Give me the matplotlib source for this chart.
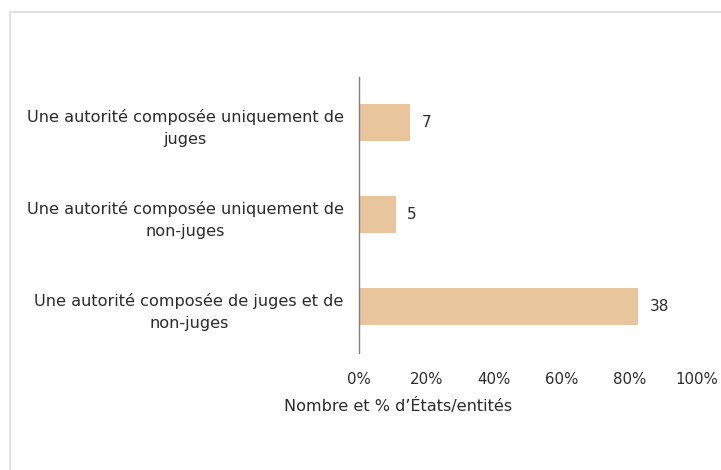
import numpy as np
import matplotlib.pyplot as plt
from matplotlib.patches import Rectangle

# Données
categories = [
    "Une autorité composée uniquement de\njuges",
    "Une autorité composée uniquement de\nnon-juges",
    "Une autorité composée de juges et de\nnon-juges",
]
valeurs = [7, 5, 38]
total = 46
pourcentages = [v / total * 100 for v in valeurs]
ticks = [0, 20, 40, 60, 80, 100]
tick_labels = ["0%", "20%", "40%", "60%", "80%", "100%"]

couleur_barre = "#E8C59C"
couleur_texte = "#2b2b2b"

fig = plt.figure(figsize=(7.21, 4.70), dpi=100)
fig.patch.set_facecolor("white")

# Cadre gris clair
fig.patches.append(Rectangle((10 / 721, -0.05), 1.2, 1 - 12 / 470 + 0.05,
                             transform=fig.transFigure, fill=False,
                             edgecolor="#dcdcdc", linewidth=1.2))

ax = fig.add_axes([359 / 721, 0.25, (697 - 359) / 721, 0.587])

y = np.arange(len(categories))
ax.barh(y, pourcentages, height=0.4, color=couleur_barre)

for yi, p, v in zip(y, pourcentages, valeurs):
    ax.annotate(str(v), xy=(p, yi), xytext=(8, 0), textcoords="offset points",
                ha="left", va="center", fontsize=11, color=couleur_texte)

ax.set_ylim(2.5, -0.5)
ax.set_xlim(0, 100)
ax.set_yticks(y)
ax.set_yticklabels(categories, fontsize=11.6, color=couleur_texte,
                   multialignment="center", linespacing=1.65)
ax.set_xticks(ticks)
ax.set_xticklabels(tick_labels, fontsize=10.8, color=couleur_texte)
ax.tick_params(axis="both", length=0)
ax.tick_params(axis="y", pad=11)
ax.tick_params(axis="x", pad=14)

for s in ["top", "right", "bottom"]:
    ax.spines[s].set_visible(False)
ax.spines["left"].set_color("#7f7f7f")
ax.spines["left"].set_linewidth(1)

ax.set_xlabel("Nombre et % d\u2019États/entités", fontsize=11.6,
              color=couleur_texte)
ax.xaxis.set_label_coords(0.117, -0.194)
ax.xaxis.label.set_va("center")

fig.savefig("out.png", dpi=100, facecolor="white")
